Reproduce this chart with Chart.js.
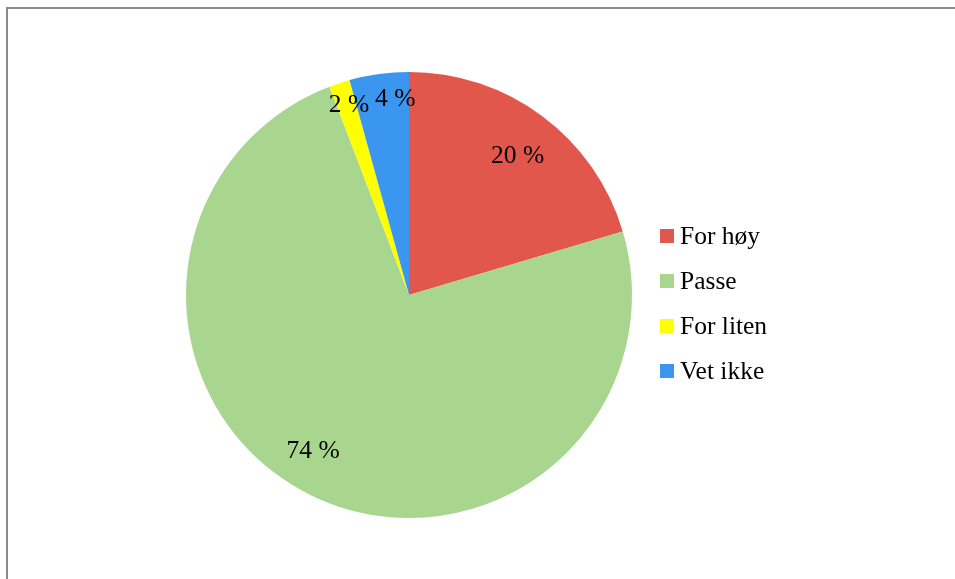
<!DOCTYPE html>
<html><head><meta charset="utf-8">
<script src="https://cdn.jsdelivr.net/npm/chart.js@4"></script>
<style>
html,body{margin:0;padding:0;background:#fff;overflow:hidden}
#wrap{position:absolute;left:0;top:0;width:955px;height:579px}
#frame{position:absolute;left:6px;top:7px;width:1000px;height:700px;border-left:2px solid #8c8c8c;border-top:2px solid #8c8c8c}
canvas{position:absolute;left:0;top:0}
</style></head>
<body><div id="wrap"><div id="frame"></div><canvas id="c" width="955" height="579"></canvas></div>
<script>
const categories = ["For høy", "Passe", "For liten", "Vet ikke"];
const values = [20.4, 73.8, 1.5, 4.3];
const valueLabels = ["20 %", "74 %", "2 %", "4 %"];
const colors = ["#E1574C", "#A9D68F", "#FFFF00", "#3A96EE"];
// label placement (styling): fraction of radius and angular nudge in degrees
const labelRadius = [0.8, 0.81, 0.905, 0.895];
const labelShift = [0.8, 5.8, 0.9, 3.8];
const FONT = "'Liberation Serif','Times New Roman',serif";

const labelPlugin = {
  id: 'sliceLabels',
  afterDatasetsDraw(chart) {
    const ctx = chart.ctx;
    const meta = chart.getDatasetMeta(0);
    ctx.save();
    ctx.font = "25.5px " + FONT;
    ctx.fillStyle = "#000";
    ctx.textAlign = "center";
    ctx.textBaseline = "middle";
    meta.data.forEach((arc, i) => {
      const p = arc.getProps(['x','y','startAngle','endAngle','outerRadius'], true);
      const mid = (p.startAngle + p.endAngle) / 2 + labelShift[i] * Math.PI / 180;
      const r = p.outerRadius * labelRadius[i];
      ctx.fillText(valueLabels[i], p.x + Math.cos(mid) * r, p.y + Math.sin(mid) * r + 3);
    });
    ctx.restore();
  }
};

const legendPlugin = {
  id: 'customLegend',
  afterDraw(chart) {
    const ctx = chart.ctx;
    ctx.save();
    ctx.font = "25.5px " + FONT;
    ctx.textBaseline = "alphabetic";
    ctx.textAlign = "left";
    categories.forEach((c, i) => {
      const y = 236 + i * 45;
      ctx.fillStyle = colors[i];
      ctx.fillRect(660, y - 7, 14, 14);
      ctx.fillStyle = "#000";
      ctx.fillText(c, 680, y + 7.5);
    });
    ctx.restore();
  }
};

new Chart(document.getElementById('c'), {
  type: 'pie',
  data: {
    labels: categories,
    datasets: [{ data: values, backgroundColor: colors, borderWidth: 0 }]
  },
  options: {
    responsive: false,
    animation: false,
    layout: { padding: { left: 186, right: 323, top: 72, bottom: 61 } },
    plugins: { legend: { display: false }, tooltip: { enabled: false } }
  },
  plugins: [labelPlugin, legendPlugin]
});
</script></body></html>
